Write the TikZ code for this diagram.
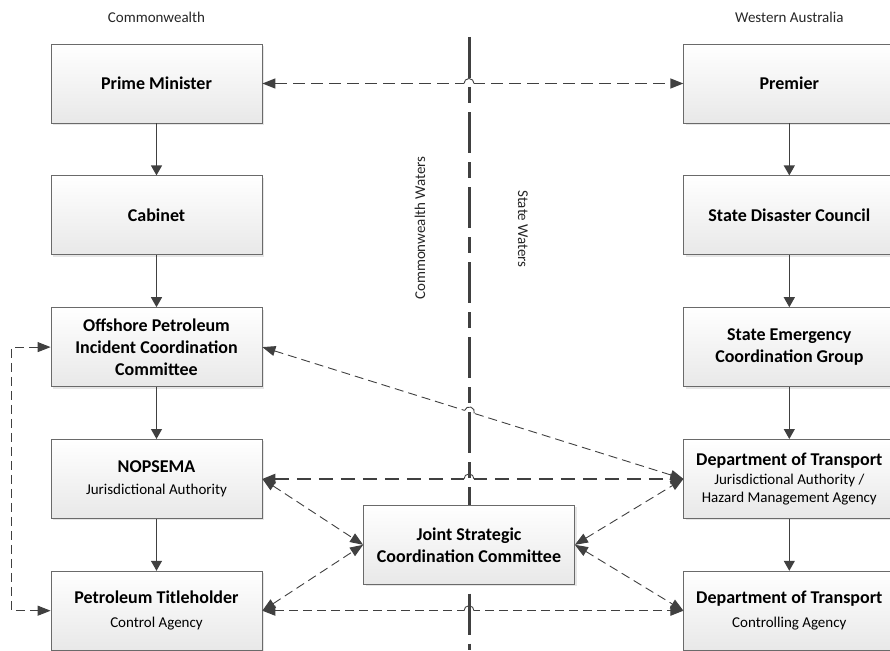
\documentclass[tikz,border=0pt]{standalone}
\usepackage{fontspec}
\setmainfont{Carlito}
\usetikzlibrary{arrows.meta,positioning,calc,shadows}
\definecolor{linegray}{HTML}{404040}
\definecolor{boxline}{HTML}{6A6A6A}
\tikzset{
    block/.style={
           rectangle,
           draw=boxline, line width=0.8pt,
           top color=white, bottom color=black!9,
           drop shadow={opacity=0.2, shadow xshift=2pt, shadow yshift=-2pt},
           minimum width=211pt, minimum height=79pt,
           inner sep=2pt,
           text=black, align=center,
           font=\fontsize{18}{22}\selectfont\bfseries,
           },
    lbl/.style={text=black!85, font=\fontsize{15}{18}\selectfont},
    dtip/.tip={Triangle[length=13pt,width=10pt]},
    link/.style={dtip-dtip, dash pattern=on 9pt off 5pt, line width=0.9pt},
    biglink/.style={dtip-dtip, dash pattern=on 12pt off 6pt, line width=1.3pt},
    hugelink/.style={dtip-dtip, dash pattern=on 14pt off 8pt, line width=1.8pt},
    border/.style={-, line width=3pt, dash pattern=on 41pt off 9pt on 16pt off 9pt},
}
\newcommand{\subtext}[1]{{\fontsize{15}{18}\selectfont\mdseries #1}}

\begin{document}
\begin{tikzpicture}[x=1pt,y=1pt,>={Triangle[length=10pt,width=11pt]},
                    node distance=52pt and 421pt, linegray, line width=1.2pt]
  \useasboundingbox (0,0) rectangle (890,-650);
  \coordinate (divtop) at (469,-37);
  \coordinate (divbot) at (469,-650);

  % Commonwealth side
  \node[block] (pm) at (156.5,-83.5) {Prime Minister};
  \node[block] (cab)  [below=of pm]  {Cabinet};
  \node[block] (op)   [below=of cab] {Offshore Petroleum\\Incident Coordination\\Committee};
  \node[block] (nop)  [below=of op]  {NOPSEMA\\\subtext{Jurisdictional Authority}};
  \node[block] (pt)   [below=of nop] {Petroleum Titleholder\\[2pt]\subtext{Control Agency}};

  % Western Australia side
  \node[block] (premier) [right=of pm]      {Premier};
  \node[block] (sdc)     [below=of premier] {State Disaster Council};
  \node[block] (secg)    [below=of sdc]     {State Emergency\\Coordination Group};
  \node[block] (dot1)    [below=of secg]    {Department of Transport\\[-3pt]\subtext{Jurisdictional Authority /}\\[-4pt]\subtext{Hazard Management Agency}};
  \node[block] (dot2)    [below=of dot1]    {Department of Transport\\[2pt]\subtext{Controlling Agency}};

  \coordinate (mid) at ($(nop)!0.5!(pt)$);
  \node[block] (jscc) at (mid -| divtop) {Joint Strategic\\Coordination Committee};

  \node[lbl] (cw) [above=17pt of pm]      {Commonwealth};
  \node[lbl] (wa) [above=17pt of premier] {Western Australia};
  \node[lbl, rotate=90]  (cww) at ($(divtop)+(-49,-191)$) {Commonwealth Waters};
  \node[lbl, rotate=-90] (sw)  at ($(divtop)+(54,-192)$)  {State Waters};

  \path[->] (pm)      edge (cab)
            (cab)     edge (op)
            (op)      edge (nop)
            (nop)     edge (pt)
            (premier) edge (sdc)
            (sdc)     edge (secg)
            (secg)    edge (dot1)
            (dot1)    edge (dot2);

  \draw[biglink]  (pm.east) -- (premier.west);
  \draw[link]     (op.east) -- coordinate[pos=0.4917] (hopb) (dot1.west);
  \draw[hugelink] (nop.east) -- (dot1.west);
  \draw[link]     (pt.east) -- (dot2.west);
  \draw[link]     (nop.east) -- (jscc.west);
  \draw[link]     (pt.east) -- (jscc.west);
  \draw[link]     (jscc.east) -- (dot1.west);
  \draw[link]     (jscc.east) -- (dot2.west);
  \draw[link]     (op.west) -- ++(-39,0) |- (pt.west);

  \coordinate (hopa) at (pm.east -| divtop);
  \coordinate (hopc) at (nop.east -| divtop);
  \coordinate (hopd) at (pt.east -| divtop);
  \foreach \c/\a in {hopa/0, hopb/-17.3, hopc/0, hopd/0}
    \draw[white, line width=4pt] ($(\c)+(\a+180:5pt)$) -- ($(\c)+(\a:5pt)$);

  % water boundary
  \draw[border] (divtop) -- (jscc.north);
  \draw[border, dash phase=66pt] (jscc.south) -- (divbot);

  \foreach \c/\a in {hopa/0, hopb/-17.3, hopc/0, hopd/0}
    \draw[line width=0.9pt] ($(\c)+(\a+180:5pt)$) arc[start angle=\a+180, end angle=\a, radius=5pt];
\end{tikzpicture}
\end{document}
